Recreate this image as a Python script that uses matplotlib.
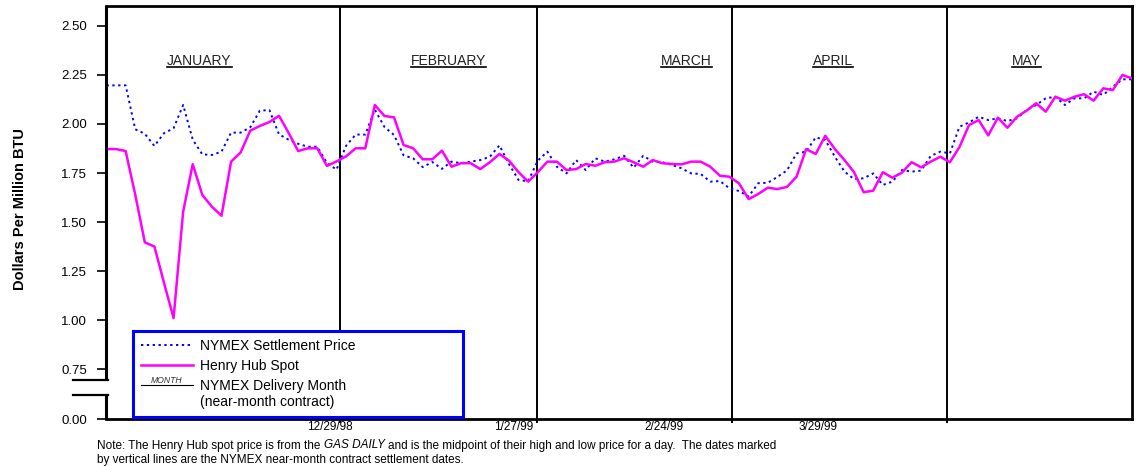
import numpy as np
import matplotlib
matplotlib.use("Agg")
from matplotlib import pyplot as plt
from matplotlib.lines import Line2D
from matplotlib.text import Text
from matplotlib.legend_handler import HandlerBase
from matplotlib.offsetbox import TextArea, HPacker, AnchoredOffsetbox

plt.rcParams['font.family'] = ['Liberation Sans', 'DejaVu Sans']

# precios diarios (indice = dia de mercado, 0..107)
henry = [1.872, 1.872, 1.862, 1.64, 1.396, 1.375, 1.19, 1.010, 1.553, 1.795,
         1.638, 1.578, 1.532, 1.808, 1.855, 1.966, 1.99, 2.010, 2.042, 1.955,
         1.862, 1.876, 1.876, 1.786, 1.809, 1.835, 1.876, 1.876, 2.097, 2.041,
         2.034, 1.893, 1.876, 1.820, 1.820, 1.864, 1.782, 1.800, 1.800, 1.770,
         1.805, 1.847, 1.813, 1.754, 1.706, 1.754, 1.808, 1.808, 1.765, 1.770,
         1.796, 1.787, 1.805, 1.808, 1.825, 1.805, 1.782, 1.816, 1.800, 1.796,
         1.794, 1.808, 1.808, 1.782, 1.736, 1.731, 1.697, 1.617, 1.643, 1.675,
         1.668, 1.679, 1.731, 1.872, 1.847, 1.940, 1.872, 1.816, 1.754, 1.652,
         1.660, 1.754, 1.726, 1.752, 1.805, 1.779, 1.808, 1.833, 1.805, 1.883,
         1.995, 2.020, 1.942, 2.032, 1.981, 2.037, 2.068, 2.106, 2.063, 2.139,
         2.119, 2.139, 2.152, 2.119, 2.182, 2.173, 2.250, 2.233]

nymex = [2.197, 2.197, 2.197, 1.973, 1.950, 1.888, 1.953, 1.978, 2.097, 1.92,
         1.845, 1.842, 1.859, 1.956, 1.956, 1.983, 2.068, 2.071, 1.947, 1.920,
         1.899, 1.884, 1.884, 1.802, 1.767, 1.889, 1.946, 1.946, 2.073, 1.985,
         1.944, 1.840, 1.825, 1.780, 1.806, 1.771, 1.808, 1.800, 1.808, 1.816,
         1.833, 1.891, 1.795, 1.714, 1.708, 1.813, 1.859, 1.782, 1.748, 1.816,
         1.765, 1.825, 1.808, 1.820, 1.838, 1.777, 1.838, 1.808, 1.805, 1.791,
         1.774, 1.748, 1.745, 1.706, 1.709, 1.672, 1.658, 1.630, 1.698, 1.700,
         1.730, 1.763, 1.850, 1.859, 1.932, 1.918, 1.833, 1.757, 1.719, 1.723,
         1.748, 1.689, 1.706, 1.765, 1.757, 1.762, 1.837, 1.859, 1.850, 1.986,
         2.008, 2.037, 2.02, 2.029, 2.015, 2.029, 2.071, 2.097, 2.131, 2.139,
         2.097, 2.131, 2.131, 2.165, 2.148, 2.190, 2.228, 2.228]

months = ['JANUARY', 'FEBRUARY', 'MARCH', 'APRIL', 'MAY']
month_idx = [9.7, 35.7, 60.5, 75.8, 96.0]

settle_labels = ['12/29/98', '1/27/99', '2/24/99', '3/29/99']
settle_idx = [24.4, 44.9, 65.3, 87.7]
label_idx = [23.3, 42.5, 58.2, 74.2]

ytick_vals = [0.75, 1.00, 1.25, 1.50, 1.75, 2.00, 2.25, 2.50]
zero_pos = 0.495   # el 0.00 va debajo del corte del eje


class MonthHandler(HandlerBase):
    def create_artists(self, legend, orig_handle, xdescent, ydescent,
                       width, height, fontsize, trans):
        top = -ydescent + height + 0.35 * fontsize
        t = Text(-xdescent + width / 2, top, 'MONTH', fontsize=fontsize * 0.62,
                 style='italic', ha='center', va='bottom', color='#333333',
                 transform=trans)
        ln = Line2D([-xdescent, -xdescent + width], [top, top], color='black',
                    lw=0.8, transform=trans)
        return [t, ln]


fig, ax = plt.subplots(figsize=(11.38, 4.66), dpi=100)
fig.subplots_adjust(left=106 / 1138, right=1132 / 1138,
                    bottom=1 - 419 / 466, top=1 - 6 / 466)

x = np.arange(len(henry))
ax.plot(x, nymex, color='#0000ff', lw=1.4, ls=(0, (1.2, 1.8)), zorder=3,
        label='NYMEX Settlement Price')
ax.plot(x, henry, color='#ff00ff', lw=1.8, zorder=4, label='Henry Hub Spot')

for xi in settle_idx:
    ax.axvline(xi, color='black', lw=1.4, zorder=2)

ax.set_xlim(-0.05, len(henry) - 1)
ax.set_ylim(zero_pos, 2.602)

ax.set_yticks([zero_pos] + ytick_vals)
ax.set_yticklabels(['0.00'] + ['%.2f' % v for v in ytick_vals])
ax.tick_params(axis='y', direction='out', length=6.5, width=1.2, pad=7,
               labelsize=9.5, colors='black')

ax.set_xticks(settle_idx)
ax.set_xticklabels([])
ax.tick_params(axis='x', which='major', direction='out', length=3, width=1.4)
ax.set_xticks(label_idx, minor=True)
ax.set_xticklabels(settle_labels, minor=True)
ax.tick_params(axis='x', which='minor', length=0, pad=1.5, labelsize=8.5)

for s in ['top', 'bottom', 'right']:
    ax.spines[s].set_linewidth(2.0)
ax.spines['left'].set_visible(False)

# eje izquierdo con corte
brk_lo = (419 - 395) / 413
brk_hi = (419 - 380) / 413
for y0, y1 in [(0, brk_lo), (brk_hi, 1)]:
    ax.plot([0, 0], [y0, y1], transform=ax.transAxes, color='black', lw=2.2,
            clip_on=False, solid_capstyle='butt', zorder=6)
for yb in (brk_lo, brk_hi):
    ax.plot([-0.032, 0.002], [yb, yb], transform=ax.transAxes, color='black',
            lw=1.6, clip_on=False, zorder=6)

# meses con subrayado
fig.canvas.draw()
renderer = fig.canvas.get_renderer()
inv = ax.transData.inverted()
for m, xm in zip(months, month_idx):
    t = ax.text(xm, 2.30, m, ha='center', va='baseline', fontsize=10,
                color='#222222')
    bb = t.get_window_extent(renderer)
    (x0, _), (x1, _) = inv.transform([(bb.x0, bb.y0), (bb.x1, bb.y0)])
    ax.plot([x0, x1], [2.292, 2.292], color='black', lw=1.2, zorder=3)

month_handle = Line2D([], [], color='none')
handles, labels = ax.get_legend_handles_labels()
leg = ax.legend(handles + [month_handle],
                labels + ['NYMEX Delivery Month\n(near-month contract)'],
                handler_map={month_handle: MonthHandler()},
                loc='lower left', bbox_to_anchor=(0.0263, 0.005, 0.3216, 0.221),
                mode='expand', fancybox=False, framealpha=1, edgecolor='#0000ff',
                fontsize=10, handlelength=3.8, handletextpad=0.5,
                labelspacing=0.45, borderpad=0.55, borderaxespad=0)
leg.get_frame().set_linewidth(2.2)
leg.set_zorder(7)

fig.text(20 / 1138, 1 - 209 / 466, 'Dollars Per Million BTU', rotation=90,
         ha='center', va='center', fontsize=10.5, fontweight='bold')

# nota al pie
tp = dict(size=8.5, color='black')
parts = [TextArea('Note: The Henry Hub spot price is from the', textprops=tp),
         TextArea('GAS DAILY', textprops=dict(tp, style='italic')),
         TextArea('and is the midpoint of their high and low price for a day.  '
                  'The dates marked', textprops=tp)]
note = HPacker(children=parts, align='baseline', pad=0, sep=2.4)
fig.add_artist(AnchoredOffsetbox(loc='lower left', child=note, pad=0,
                                 borderpad=0, frameon=False,
                                 bbox_to_anchor=(97 / 1138, 1 - 451.5 / 466),
                                 bbox_transform=fig.transFigure))
fig.text(97 / 1138, 1 - 462.5 / 466,
         'by vertical lines are the NYMEX near-month contract settlement dates.',
         fontsize=8.5, va='baseline')

fig.savefig('out.png', dpi=100)
